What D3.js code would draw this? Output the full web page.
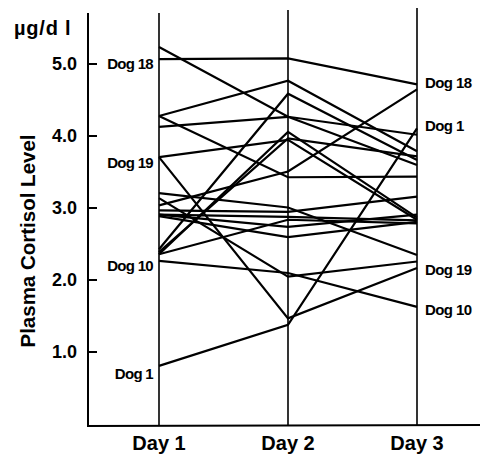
<!DOCTYPE html>
<html>
<head>
<meta charset="utf-8">
<script src="https://cdn.jsdelivr.net/npm/d3@7"></script>
<style>
  html, body { margin: 0; padding: 0; background: #fff; }
  svg { display: block; }
  text { font-family: "Liberation Sans", Arial, Helvetica, sans-serif; fill: #000; }
</style>
</head>
<body>
<svg id="chart" width="480" height="457"></svg>
<script>
// ---- data ----
const days = ["Day 1", "Day 2", "Day 3"];
const yTicks = [1.0, 2.0, 3.0, 4.0, 5.0];
const dogNames = ["Dog 18", "Dog 1", "Dog 19", "Dog 10", "", "", "", "", "", "", "", "", "", "", "", "", "", "", "", ""];
const day1 = [5.06, 0.80, 3.70, 2.26, 5.23, 4.27, 4.27, 4.12, 3.70, 2.42, 2.35, 2.38, 3.13, 2.90, 2.90, 2.88, 3.03, 2.96, 3.20, 2.35];
const day2 = [5.07, 1.37, 1.46, 2.09, 4.26, 4.76, 3.42, 4.26, 3.94, 4.58, 4.05, 3.96, 2.04, 2.87, 2.73, 2.59, 3.50, 2.94, 3.00, 2.83];
const day3 = [4.71, 4.10, 2.16, 1.62, 3.59, 3.78, 3.43, 4.01, 2.83, 3.66, 2.86, 3.71, 2.25, 2.82, 2.90, 2.80, 4.64, 3.15, 2.34, 2.78];
const leftLabels = ["Dog 18", "Dog 19", "Dog 10", "Dog 1"];
const rightLabels = ["Dog 18", "Dog 1", "Dog 19", "Dog 10"];

const dogs = day1.map((v, i) => ({ name: dogNames[i], values: [v, day2[i], day3[i]] }));

// ---- layout ----
const svg = d3.select("#chart");
const axisX = 88, axisTop = 13, axisBottom = 426;
const y = d3.scaleLinear().domain([0, 5]).range([423.5, 63.5]);
const x = d3.scalePoint().domain(days).range([159, 417]);

// y axis line
svg.append("line").attr("x1", axisX).attr("x2", axisX).attr("y1", axisTop).attr("y2", axisBottom + 1)
  .attr("stroke", "#000").attr("stroke-width", 2);
// bottom axis line
svg.append("line").attr("x1", axisX - 1).attr("x2", 480).attr("y1", axisBottom).attr("y2", axisBottom - 1)
  .attr("stroke", "#000").attr("stroke-width", 2);

// ticks + labels
const gAxis = svg.append("g").attr("transform", `translate(${axisX},0)`)
  .call(d3.axisLeft(y).tickValues(yTicks).tickFormat(d3.format(".1f"))
    .tickSizeInner(-9).tickSizeOuter(0).tickPadding(11));
gAxis.select(".domain").remove();
gAxis.selectAll(".tick line").attr("stroke", "#000").attr("stroke-width", 2);
gAxis.selectAll(".tick text").attr("font-size", 18).attr("font-weight", "bold")
  .attr("font-family", "'Liberation Sans', Arial, sans-serif").attr("fill", "#000");

// day verticals
svg.selectAll("line.day").data(days).enter().append("line").attr("class", "day")
  .attr("x1", d => x(d)).attr("x2", d => x(d))
  .attr("y1", (d, i) => [13, 10, 8][i]).attr("y2", axisBottom)
  .attr("stroke", "#000").attr("stroke-width", 1.6);

// dog lines
const line = d3.line().x((d, i) => x(days[i])).y(d => y(d));
svg.selectAll("path.dog").data(dogs).enter().append("path").attr("class", "dog")
  .attr("d", d => line(d.values))
  .attr("fill", "none").attr("stroke", "#000").attr("stroke-width", 2.2)
  .attr("stroke-linejoin", "miter");

// dog labels left
const leftOffsets = { "Dog 18": 10, "Dog 19": 11, "Dog 10": 10, "Dog 1": 13 };
leftLabels.forEach(n => {
  const d = dogs.find(o => o.name === n);
  svg.append("text").attr("x", x(days[0]) - 6).attr("y", y(d.values[0]) + leftOffsets[n])
    .attr("text-anchor", "end").attr("font-size", 15).attr("font-weight", "bold")
    .attr("letter-spacing", -0.7).text(n);
});
// dog labels right
const rightOffsets = { "Dog 18": 4, "Dog 1": 3, "Dog 19": 7, "Dog 10": 8 };
rightLabels.forEach(n => {
  const d = dogs.find(o => o.name === n);
  svg.append("text").attr("x", x(days[2]) + 8).attr("y", y(d.values[2]) + rightOffsets[n])
    .attr("text-anchor", "start").attr("font-size", 15).attr("font-weight", "bold")
    .attr("letter-spacing", -0.6).text(n);
});

// x labels
svg.selectAll("text.day").data(days).enter().append("text").attr("class", "day")
  .attr("x", d => x(d)).attr("y", 450).attr("text-anchor", "middle")
  .attr("font-size", 20).attr("font-weight", "bold").text(d => d);

// units
svg.append("text").attr("x", 14).attr("y", 35).attr("font-size", 20).attr("font-weight", "bold")
  .attr("letter-spacing", 0.8).text("µg/d l");

// y title
svg.append("text").attr("transform", "translate(35,241) rotate(-90)")
  .attr("text-anchor", "middle").attr("font-size", 20.5).attr("font-weight", "bold")
  .text("Plasma Cortisol Level");
</script>
</body>
</html>
